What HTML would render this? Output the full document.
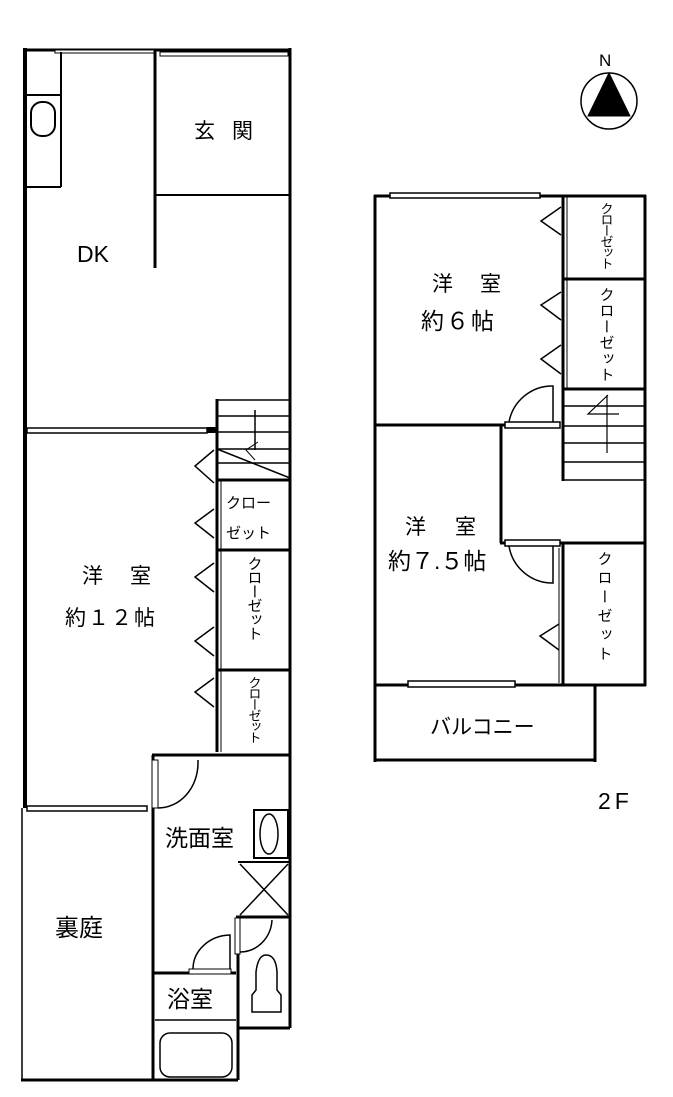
<!DOCTYPE html>
<html><head><meta charset="utf-8"><style>
html,body{margin:0;padding:0;background:#fff;width:673px;height:1097px;overflow:hidden}
svg{display:block}
text{font-family:"Liberation Sans","Noto Sans CJK JP",sans-serif;fill:#000}
</style></head><body>
<svg width="673" height="1097" viewBox="0 0 673 1097" xmlns="http://www.w3.org/2000/svg">
<g fill="none" stroke="#000">
<line x1="25" y1="48" x2="25" y2="808" stroke-width="4"/>
<line x1="24" y1="50" x2="291" y2="50" stroke-width="3"/>
<line x1="290" y1="48" x2="290" y2="1028" stroke-width="3"/>
<rect x="55" y="50" width="100" height="3" stroke-width="1" fill="#fff"/>
<rect x="160" y="52" width="128" height="4" stroke-width="1" fill="#fff"/>
<line x1="61" y1="52" x2="61" y2="187" stroke-width="2"/>
<line x1="27" y1="187" x2="61" y2="187" stroke-width="2"/>
<line x1="27" y1="95" x2="61" y2="95" stroke-width="2"/>
<rect x="31" y="102" width="24" height="34" rx="11" stroke-width="2"/>
<line x1="155" y1="50" x2="155" y2="268" stroke-width="3"/>
<line x1="155" y1="195" x2="290" y2="195" stroke-width="2"/>
<rect x="27" y="428" width="180" height="5" stroke-width="1.5" fill="#fff"/>
<rect x="207" y="427" width="9" height="6" fill="#000" stroke="none"/>
<line x1="217" y1="399" x2="217" y2="752" stroke-width="3"/>
<line x1="217" y1="400" x2="290" y2="400" stroke-width="1.5"/>
<line x1="217" y1="416" x2="290" y2="416" stroke-width="1.5"/>
<line x1="217" y1="432" x2="290" y2="432" stroke-width="1.5"/>
<line x1="217" y1="449" x2="290" y2="449" stroke-width="1.5"/>
<line x1="217" y1="463" x2="290" y2="463" stroke-width="1.5"/>
<line x1="217" y1="449" x2="290" y2="478" stroke-width="1.5"/>
<line x1="255" y1="410" x2="255" y2="450" stroke-width="1.5"/>
<polyline points="258,442 246,450 255,460" stroke-width="1"/>
<line x1="217" y1="480" x2="290" y2="480" stroke-width="3"/>
<line x1="217" y1="550" x2="290" y2="550" stroke-width="3"/>
<line x1="217" y1="670" x2="290" y2="670" stroke-width="3"/>
<line x1="221" y1="480" x2="221" y2="752" stroke-width="1"/>
<polyline points="214,450 195,466 214,483" stroke-width="1.5"/>
<polyline points="214,509 195,523 214,538" stroke-width="1.5"/>
<polyline points="214,563 195,577 214,592" stroke-width="1.5"/>
<polyline points="214,627 195,641 214,656" stroke-width="1.5"/>
<polyline points="214,678 195,692 214,707" stroke-width="1.5"/>
<line x1="152" y1="755" x2="291" y2="755" stroke-width="3"/>
<line x1="153" y1="755" x2="153" y2="1080" stroke-width="3"/>
<rect x="152" y="760" width="6" height="48" stroke-width="1" fill="#fff"/>
<path d="M158,808 A40,45 0 0 0 198,763 L198,760" stroke-width="1.5"/>
<rect x="27" y="806" width="120" height="5" stroke-width="1.5" fill="#fff"/>
<line x1="22" y1="808" x2="22" y2="1080" stroke-width="1.5"/>
<line x1="21" y1="1080" x2="238" y2="1080" stroke-width="3"/>
<rect x="254" y="810" width="34" height="48" stroke-width="2"/>
<ellipse cx="269" cy="834" rx="9" ry="20" stroke-width="1.5"/>
<line x1="238" y1="862" x2="290" y2="862" stroke-width="2"/>
<line x1="240" y1="864" x2="288" y2="915" stroke-width="1.5"/>
<line x1="288" y1="864" x2="240" y2="915" stroke-width="1.5"/>
<line x1="236" y1="917" x2="290" y2="917" stroke-width="3"/>
<line x1="238" y1="917" x2="238" y2="1080" stroke-width="3"/>
<rect x="235" y="918" width="5" height="36" stroke-width="1" fill="#fff"/>
<path d="M240,952 A32,34 0 0 0 272,920" stroke-width="1.5"/>
<line x1="238" y1="1028" x2="290" y2="1028" stroke-width="3"/>
<path d="M252,1012 L252,995 L256,990 L256,972 Q258,955 266,955 Q276,955 277,972 L277,990 L281,995 L281,1012 Z" stroke-width="1.5"/>
<line x1="153" y1="973" x2="236" y2="973" stroke-width="3"/>
<rect x="189" y="969" width="42" height="5" stroke-width="1" fill="#fff"/>
<path d="M193,969 A38,34 0 0 1 230,935 L230,969" stroke-width="1.5"/>
<line x1="155" y1="1020" x2="236" y2="1020" stroke-width="1.5"/>
<rect x="160" y="1033" width="72" height="44" rx="10" stroke-width="1.5"/>

<line x1="375" y1="195" x2="375" y2="686" stroke-width="3"/>
<line x1="374" y1="196" x2="646" y2="196" stroke-width="3"/>
<line x1="645" y1="195" x2="645" y2="686" stroke-width="3"/>
<rect x="390" y="193" width="150" height="5" stroke-width="1.5" fill="#fff"/>
<line x1="563" y1="196" x2="563" y2="388" stroke-width="3"/>
<line x1="567" y1="196" x2="567" y2="388" stroke-width="1"/>
<line x1="563" y1="279" x2="645" y2="279" stroke-width="3"/>
<line x1="563" y1="389" x2="645" y2="389" stroke-width="3"/>
<polyline points="561,207 541,221 561,235" stroke-width="1.5"/>
<polyline points="561,292 541,305 561,320" stroke-width="1.5"/>
<polyline points="561,345 541,359 561,374" stroke-width="1.5"/>
<line x1="563" y1="388" x2="563" y2="481" stroke-width="3"/>
<line x1="563" y1="406" x2="645" y2="406" stroke-width="1.5"/>
<line x1="563" y1="426" x2="645" y2="426" stroke-width="1.5"/>
<line x1="563" y1="443" x2="645" y2="443" stroke-width="1.5"/>
<line x1="563" y1="462" x2="645" y2="462" stroke-width="1.5"/>
<line x1="563" y1="480" x2="645" y2="480" stroke-width="1.5"/>
<polyline points="608,395 588,414 619,414" stroke-width="1.2"/>
<line x1="607" y1="395" x2="607" y2="453" stroke-width="1.2"/>
<line x1="375" y1="425" x2="505" y2="425" stroke-width="3"/>
<rect x="505" y="422" width="55" height="6" stroke-width="1.5" fill="#fff"/>
<path d="M509,422 A44,44 0 0 1 553,386 L553,422" stroke-width="1.5"/>
<line x1="501" y1="424" x2="501" y2="543" stroke-width="3"/>
<line x1="500" y1="543" x2="505" y2="543" stroke-width="3"/>
<rect x="505" y="540" width="55" height="6" stroke-width="1.5" fill="#fff"/>
<path d="M509,546 A44,44 0 0 0 553,583 L553,546" stroke-width="1.5"/>
<line x1="560" y1="543" x2="645" y2="543" stroke-width="3"/>
<line x1="563" y1="543" x2="563" y2="686" stroke-width="3"/>
<line x1="559" y1="548" x2="559" y2="683" stroke-width="1"/>
<polyline points="559,624 540,636 559,650" stroke-width="1.5"/>
<line x1="374" y1="685" x2="646" y2="685" stroke-width="3"/>
<rect x="408" y="681" width="107" height="6" stroke-width="1.5" fill="#fff"/>
<line x1="375" y1="685" x2="375" y2="762" stroke-width="3"/>
<line x1="595" y1="685" x2="595" y2="762" stroke-width="3"/>
<line x1="374" y1="760" x2="596" y2="760" stroke-width="3"/>
<circle cx="609" cy="101" r="28" stroke-width="1.5"/>
<polygon points="609,73 588,116 630,116" fill="#000" stroke-width="1"/>
</g>

<g font-size="21">
<text x="194" y="138">玄</text><text x="232" y="138">関</text>
<text x="77" y="262" font-size="23">DK</text>
<text x="82" y="583">洋</text><text x="130" y="583">室</text>
<text x="65" y="625" letter-spacing="2">約１２帖</text>
<text x="165" y="846" font-size="23">洗面室</text>
<text x="55" y="936" font-size="24">裏庭</text>
<text x="167" y="1007" font-size="23">浴室</text>
<text x="432" y="291">洋</text><text x="480" y="291">室</text>
<text x="421" y="329" font-size="23" letter-spacing="2">約６帖</text>
<text x="405" y="534">洋</text><text x="455" y="534">室</text>
<text x="388" y="569" font-size="23">約７.５帖</text>
<text x="430" y="734">バルコニー</text>
<text x="598" y="809" font-size="23" letter-spacing="4">2F</text>
<text x="599" y="66" font-size="17">N</text>
</g>
<g font-size="15">
<text x="226" y="508">クロー</text>
<text x="226" y="538">ゼット</text>
</g>
<g font-size="15">
<text x="254" y="556" writing-mode="tb" style="writing-mode:vertical-rl;letter-spacing:-1px">クローゼット</text>
<text x="254" y="676" writing-mode="tb" style="writing-mode:vertical-rl;letter-spacing:-2px;font-size:13px">クローゼット</text>
<text x="606" y="202" writing-mode="tb" style="writing-mode:vertical-rl;letter-spacing:-2px;font-size:13px">クローゼット</text>
<text x="606" y="287" writing-mode="tb" style="writing-mode:vertical-rl;letter-spacing:1px">クローゼット</text>
<text x="604" y="551" writing-mode="tb" style="writing-mode:vertical-rl;letter-spacing:4px">クローゼット</text>
</g>
</svg>
</body></html>
